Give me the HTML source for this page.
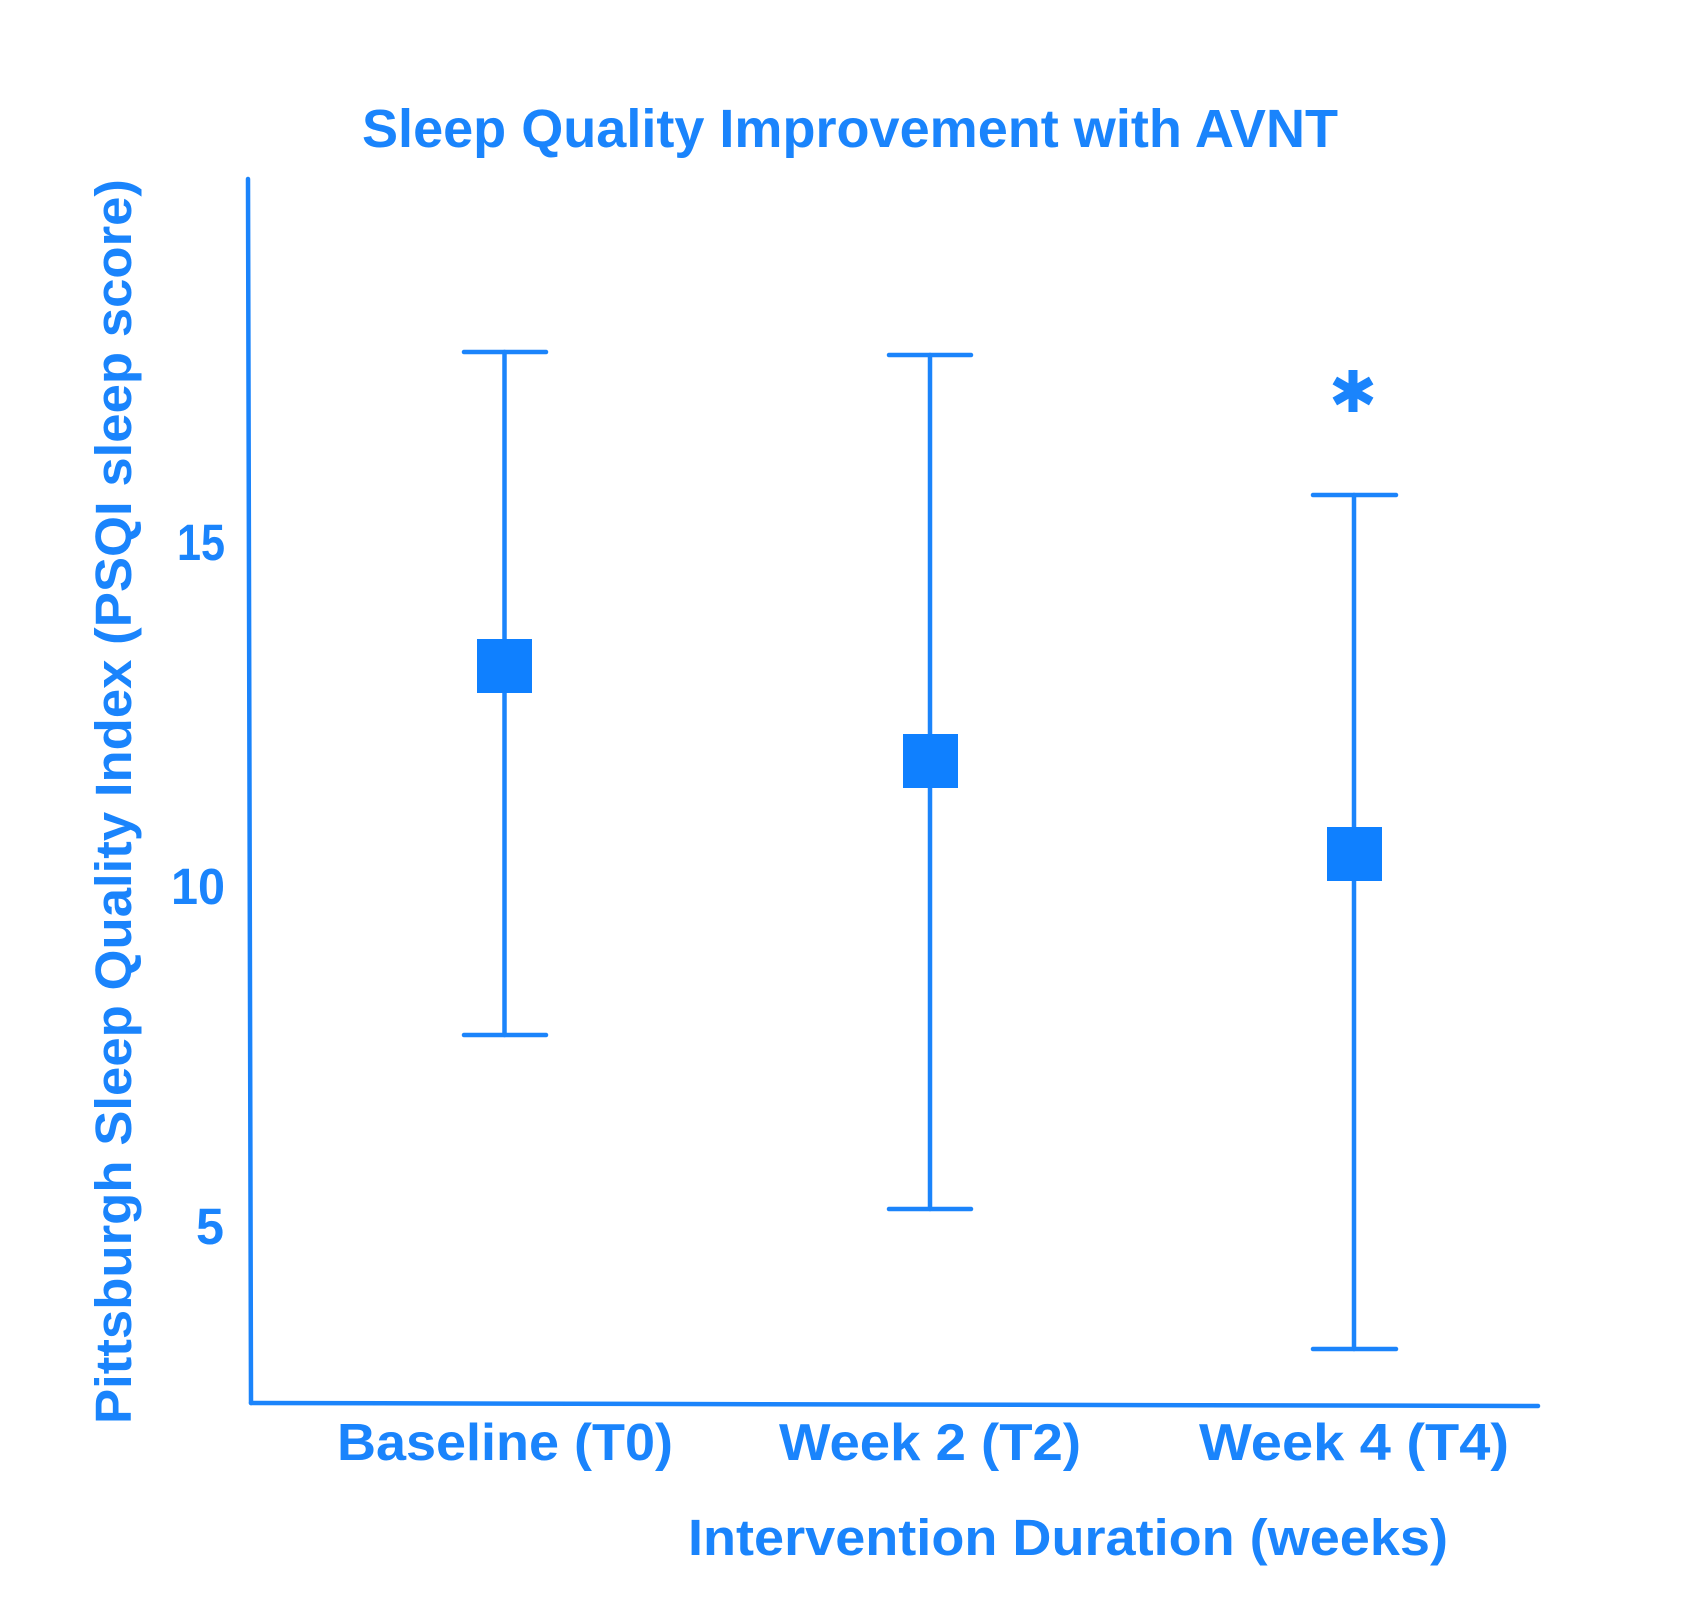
<!DOCTYPE html>
<html>
<head>
<meta charset="utf-8">
<style>
  html, body { margin: 0; padding: 0; background: #ffffff; }
  svg { display: block; }
  text { font-family: "Liberation Sans", "DejaVu Sans", sans-serif; font-weight: bold; fill: #1a84fc; }
</style>
</head>
<body>
<svg width="1700" height="1600" viewBox="0 0 1700 1600" xmlns="http://www.w3.org/2000/svg">
  <rect x="0" y="0" width="1700" height="1600" fill="#ffffff"/>

  <!-- Title -->
  <text x="362" y="147" font-size="54" textLength="976" lengthAdjust="spacingAndGlyphs">Sleep Quality Improvement with AVNT</text>

  <!-- Axes -->
  <g stroke="#1b84fb" stroke-width="4.5" stroke-linecap="round" fill="none">
    <line x1="248" y1="179" x2="251" y2="1403"/>
    <line x1="251" y1="1403" x2="1538" y2="1406"/>
  </g>

  <!-- Y tick labels -->
  <text x="177" y="560" font-size="51" textLength="48" lengthAdjust="spacingAndGlyphs">15</text>
  <text x="171" y="904" font-size="51" textLength="54" lengthAdjust="spacingAndGlyphs">10</text>
  <text x="196" y="1244" font-size="51" textLength="28" lengthAdjust="spacingAndGlyphs">5</text>

  <!-- Y axis label -->
  <text transform="translate(131,1424) rotate(-90)" x="0" y="0" font-size="51" textLength="1245" lengthAdjust="spacingAndGlyphs">Pittsburgh Sleep Quality Index (PSQI sleep score)</text>

  <!-- Error bars -->
  <g stroke="#1b84fb" stroke-width="4.5" stroke-linecap="round" fill="none">
    <!-- Baseline -->
    <line x1="504.5" y1="352" x2="504.5" y2="1035"/>
    <line x1="464" y1="352" x2="546" y2="352"/>
    <line x1="464" y1="1035" x2="546" y2="1035"/>
    <!-- Week 2 -->
    <line x1="930" y1="355" x2="930" y2="1209"/>
    <line x1="889" y1="355" x2="971" y2="355"/>
    <line x1="889" y1="1209" x2="971" y2="1209"/>
    <!-- Week 4 -->
    <line x1="1354" y1="495" x2="1354" y2="1349"/>
    <line x1="1313" y1="495" x2="1396" y2="495"/>
    <line x1="1313" y1="1349" x2="1396" y2="1349"/>
  </g>

  <!-- Markers -->
  <g fill="#0f80ff">
    <rect x="477" y="639" width="55" height="54"/>
    <rect x="903" y="734" width="55" height="54"/>
    <rect x="1327" y="827" width="55" height="54"/>
  </g>

  <!-- Asterisk -->
  <g stroke="#1a84fc" stroke-width="9" stroke-linecap="butt" transform="translate(1353,391)">
    <line x1="0" y1="-21" x2="0" y2="21"/>
    <line x1="-18.2" y1="-10.5" x2="18.2" y2="10.5"/>
    <line x1="-18.2" y1="10.5" x2="18.2" y2="-10.5"/>
  </g>

  <!-- X tick labels -->
  <text x="337" y="1460" font-size="52" textLength="336" lengthAdjust="spacingAndGlyphs">Baseline (T0)</text>
  <text x="779" y="1460" font-size="52" textLength="302" lengthAdjust="spacingAndGlyphs">Week 2 (T2)</text>
  <text x="1199" y="1460" font-size="52" textLength="310" lengthAdjust="spacingAndGlyphs">Week 4 (T4)</text>

  <!-- X axis title -->
  <text x="688" y="1555" font-size="51" textLength="760" lengthAdjust="spacingAndGlyphs">Intervention Duration (weeks)</text>
</svg>
</body>
</html>
